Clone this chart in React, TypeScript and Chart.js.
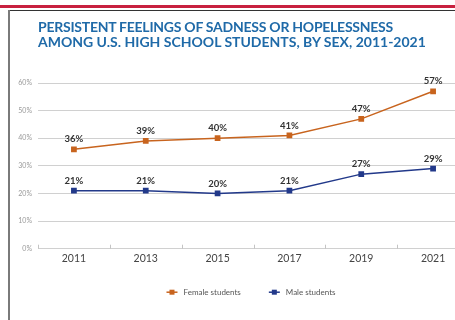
import React, { useEffect, useRef } from "react";
import { Chart, registerables } from "chart.js";

Chart.register(...registerables);

const years = ["2011", "2013", "2015", "2017", "2019", "2021"];
const femaleValues = [36, 39, 40, 41, 47, 57];
const maleValues = [21, 21, 20, 21, 27, 29];
const seriesNames = ["Female students", "Male students"];
const seriesColors = ["#c8641e", "#22398a"];
const titleLines = [
  "PERSISTENT FEELINGS OF SADNESS OR HOPELESSNESS",
  "AMONG U.S. HIGH SCHOOL STUDENTS, BY SEX, 2011-2021",
];
const yMin = 0;
const yMax = 60;
const yStep = 10;

const FONT = "Lato, 'DejaVu Sans', sans-serif";

const valueLabelPlugin = {
  id: "valueLabels",
  afterDatasetsDraw(chart: any) {
    const ctx = chart.ctx;
    ctx.save();
    ctx.font = "bold 9.5px " + FONT;
    ctx.fillStyle = "#333";
    ctx.textAlign = "center";
    ctx.textBaseline = "middle";
    chart.data.datasets.forEach((ds: any, di: number) => {
      const meta = chart.getDatasetMeta(di);
      meta.data.forEach((pt: any, i: number) => {
        ctx.fillText(ds.data[i] + "%", pt.x, pt.y - 10);
      });
    });
    ctx.restore();
  },
};

const axisTickPlugin = {
  id: "axisTicks",
  afterDraw(chart: any) {
    const x = chart.scales.x;
    const bottom = chart.chartArea.bottom;
    const ctx = chart.ctx;
    ctx.save();
    ctx.strokeStyle = "#c4c4c4";
    ctx.lineWidth = 1;
    for (let i = 0; i < years.length; i++) {
      const px = Math.round(x.getPixelForValue(i - 0.5)) + 0.5;
      ctx.beginPath();
      ctx.moveTo(px, bottom);
      ctx.lineTo(px, bottom - 4);
      ctx.stroke();
    }
    ctx.restore();
  },
};

const customLegendPlugin = {
  id: "customLegend",
  afterDraw(chart: any) {
    const ctx = chart.ctx;
    const area = chart.chartArea;
    ctx.save();
    ctx.font = "8px " + FONT;
    const iconW = 11;
    const iconGap = 6;
    const itemGap = 28;
    const widths = chart.data.datasets.map((ds: any) => ctx.measureText(ds.label).width);
    let total = 0;
    widths.forEach((w: number, i: number) => {
      total += iconW + iconGap + w + (i > 0 ? itemGap : 0);
    });
    const cx = (area.left + area.right) / 2 - 2.5;
    const cy = area.bottom + 43.5;
    let x = cx - total / 2;
    chart.data.datasets.forEach((ds: any, i: number) => {
      const color = ds.borderColor;
      ctx.strokeStyle = color;
      ctx.lineWidth = 1.5;
      ctx.beginPath();
      ctx.moveTo(x, cy);
      ctx.lineTo(x + iconW, cy);
      ctx.stroke();
      ctx.fillStyle = color;
      ctx.fillRect(x + iconW / 2 - 2.5, cy - 2.5, 5, 5);
      ctx.fillStyle = "#555";
      ctx.textAlign = "left";
      ctx.textBaseline = "middle";
      ctx.fillText(ds.label, x + iconW + iconGap, cy);
      x += iconW + iconGap + widths[i] + itemGap;
    });
    ctx.restore();
  },
};

function ChartView() {
  const ref = useRef<HTMLCanvasElement | null>(null);
  useEffect(() => {
    if (!ref.current) return;
    const chart = new Chart(ref.current, {
      type: "line",
      data: {
        labels: years,
        datasets: [
          {
            label: seriesNames[0],
            data: femaleValues,
            borderColor: seriesColors[0],
            backgroundColor: seriesColors[0],
            borderWidth: 1.5,
            pointStyle: "rect",
            pointRadius: 3,
            tension: 0,
          },
          {
            label: seriesNames[1],
            data: maleValues,
            borderColor: seriesColors[1],
            backgroundColor: seriesColors[1],
            borderWidth: 1.5,
            pointStyle: "rect",
            pointRadius: 3,
            tension: 0,
          },
        ],
      },
      options: {
        animation: false,
        responsive: false,
        maintainAspectRatio: false,
        layout: { padding: { top: 83, left: 18, right: 33, bottom: 50.7 } },
        scales: {
          x: {
            offset: true,
            grid: { display: false, drawTicks: false },
            border: { display: false },
            ticks: {
              padding: 4,
              color: "#444",
              font: { family: FONT, size: 10.5 },
            },
          },
          y: {
            min: yMin,
            max: yMax,
            afterFit: (s: any) => {
              s.width = 20;
            },
            grid: { color: "#d0d0d0", lineWidth: 1, drawTicks: false },
            border: { display: false },
            ticks: {
              stepSize: yStep,
              padding: 6,
              color: "#9a9a9a",
              font: { family: FONT, size: 7 },
              callback: (v: any) => v + "%",
            },
          },
        },
        plugins: {
          title: { display: false },
          tooltip: { enabled: false },
          legend: { display: false },
        },
      },
      plugins: [valueLabelPlugin, axisTickPlugin, customLegendPlugin],
    });
    return () => chart.destroy();
  }, []);
  return (
    <canvas
      ref={ref}
      width={502}
      height={320}
      style={{ position: "absolute", left: 0, top: 0, width: 502, height: 320 }}
    />
  );
}

export default function App() {
  return (
    <div
      style={{
        position: "fixed",
        left: 0,
        top: 0,
        width: 455,
        height: 320,
        overflow: "hidden",
        background: "#fff",
      }}
    >
      <ChartView />
      <div style={{ position: "absolute", left: 0, top: 4.5, width: 455, height: 3, background: "#c8203f" }} />
      <div style={{ position: "absolute", left: 8, top: 9.5, width: 447, height: 1.2, background: "#333" }} />
      <div style={{ position: "absolute", left: 8, top: 10, width: 1.5, height: 310, background: "#7a7a7a" }} />
      <div
        style={{
          position: "absolute",
          left: 38,
          top: 19,
          fontFamily: FONT,
          fontWeight: 700,
          fontSize: 14,
          lineHeight: "15px",
          color: "#1f6aa8",
          whiteSpace: "nowrap",
        }}
      >
        <div style={{ letterSpacing: "-0.25px" }}>{titleLines[0]}</div>
        <div style={{ letterSpacing: "0px" }}>{titleLines[1]}</div>
      </div>
    </div>
  );
}
